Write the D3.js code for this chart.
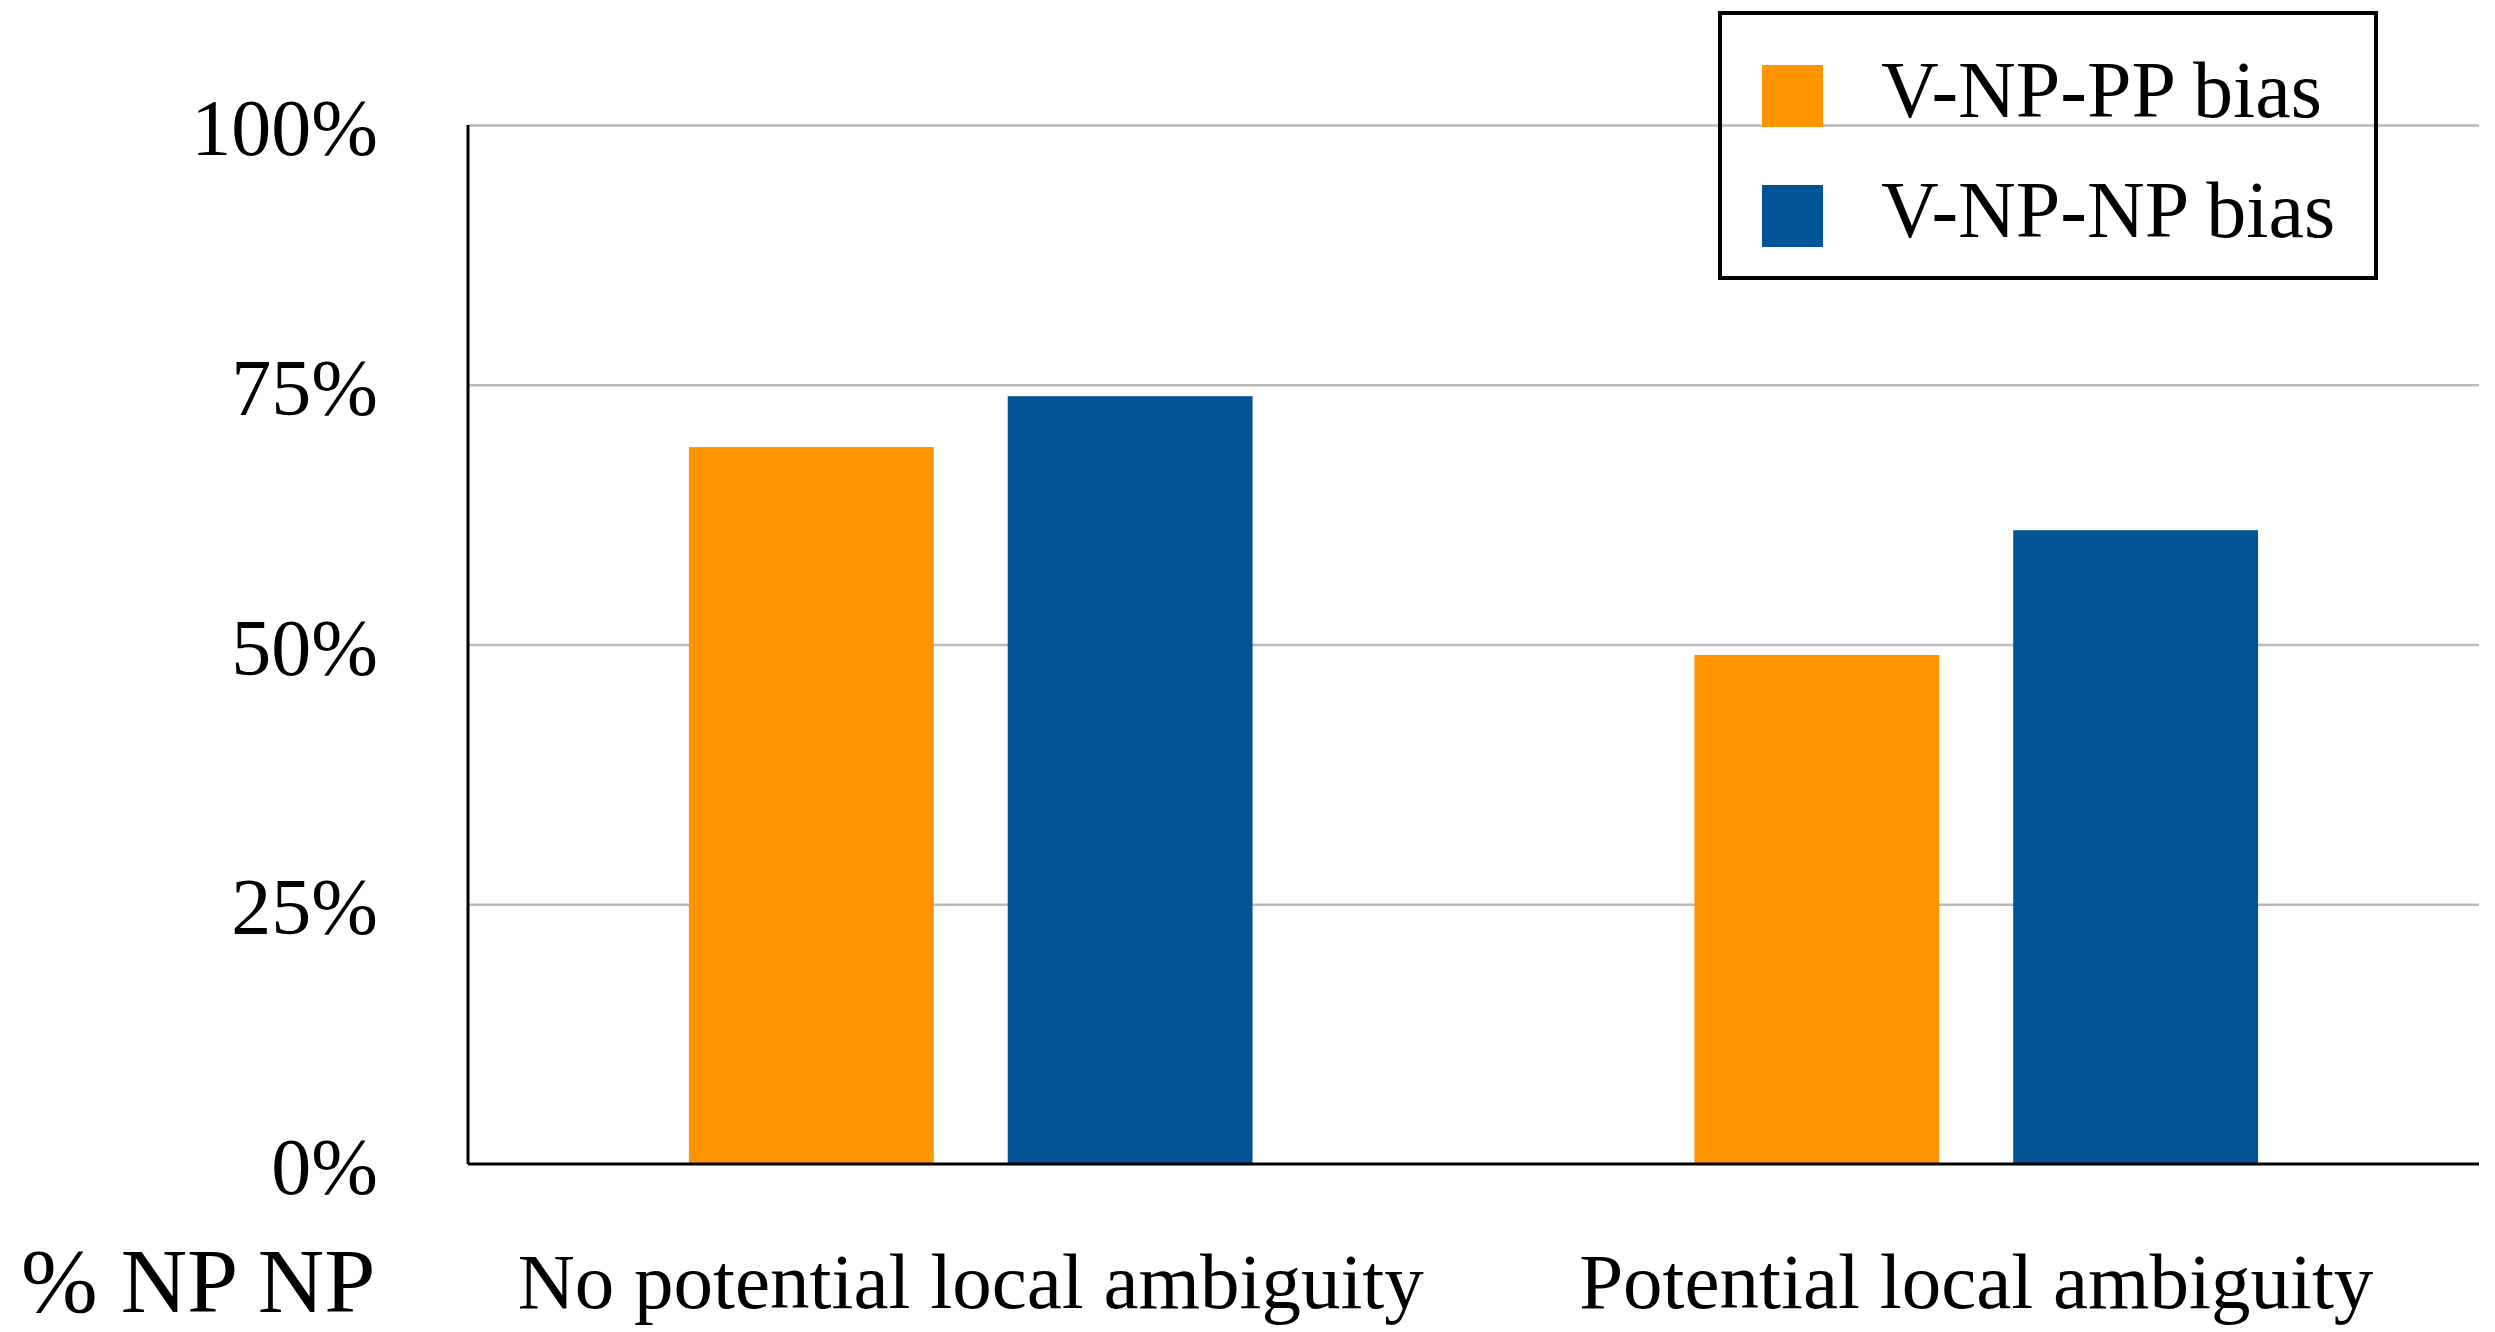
<!DOCTYPE html>
<html>
<head>
<meta charset="utf-8">
<script src="https://d3js.org/d3.v7.min.js"></script>
<style>
  body { margin: 0; background: #fff; }
  svg { display: block; font-family: "Liberation Serif", "Times New Roman", serif; }
</style>
</head>
<body>
<svg width="2495" height="1332"></svg>
<script>
const categories = ["No potential local ambiguity", "Potential local ambiguity"];
const seriesNames = ["V-NP-PP bias", "V-NP-NP bias"];
const ppBias = [0.69, 0.49];
const npBias = [0.739, 0.61];
const yTicks = [0, 0.25, 0.5, 0.75, 1];
const colors = ["#FF9300", "#025395"];

let svg = d3.select("svg"),
    margin = { left: 468, top: 125, right: 16, bottom: 168 },
    width = 2495 - margin.left - margin.right,
    height = 1332 - margin.top - margin.bottom;

let g = svg.append("g").attr("transform", `translate(${margin.left},${margin.top})`);

let y = d3.scaleLinear().domain([0, 1]).range([height, 0]);
let x0 = d3.scaleBand().domain(categories).range([0, width]);
let x1 = d3.scaleBand().domain(seriesNames).range([0, x0.bandwidth()])
    .paddingInner(0.232).paddingOuter(0.693);

// gridlines
g.append("g")
    .call(d3.axisLeft(y).tickValues(yTicks.slice(1)).tickSize(-width).tickFormat(""))
    .call(s => s.select(".domain").remove())
    .call(s => s.selectAll("line").attr("stroke", "#bababa").attr("stroke-width", 2.5));

// bars
let rows = categories.map((c, i) => ({ cat: c, vals: [ppBias[i], npBias[i]] }));
g.selectAll(".grp")
    .data(rows)
    .enter().append("g")
    .attr("transform", d => `translate(${x0(d.cat)},0)`)
    .selectAll("rect")
    .data(d => d.vals.map((v, i) => ({ key: seriesNames[i], v: v, i: i })))
    .enter().append("rect")
    .attr("x", d => x1(d.key))
    .attr("width", x1.bandwidth())
    .attr("y", d => y(d.v))
    .attr("height", d => height - y(d.v))
    .attr("fill", d => colors[d.i]);

// y axis labels
g.append("g")
    .call(d3.axisLeft(y).tickValues(yTicks).tickSize(0).tickPadding(90).tickFormat(d3.format(".0%")))
    .call(s => s.select(".domain").remove())
    .call(s => s.selectAll("text")
        .attr("font-size", 80)
        .attr("fill", "#000")
        .attr("font-family", "Liberation Serif")
        .attr("dy", "0.37em"));

// axis lines
g.append("line").attr("x1", 0).attr("x2", 0).attr("y1", 0).attr("y2", height)
    .attr("stroke", "#000").attr("stroke-width", 3);
g.append("line").attr("x1", 0).attr("x2", width).attr("y1", height).attr("y2", height)
    .attr("stroke", "#000").attr("stroke-width", 3);

// category labels
g.append("g")
    .attr("transform", `translate(0,${height})`)
    .call(d3.axisBottom(x0).tickSize(0).tickPadding(144))
    .call(s => s.select(".domain").remove())
    .call(s => s.selectAll("text")
        .attr("font-size", 79)
        .attr("fill", "#000")
        .attr("font-family", "Liberation Serif")
        .attr("dy", "0"));

svg.append("text")
    .attr("x", 21)
    .attr("y", 1312)
    .attr("font-size", 92)
    .text("% NP NP");

// legend
let legend = svg.append("g");
legend.append("rect")
    .attr("x", 1720).attr("y", 13)
    .attr("width", 656).attr("height", 265)
    .attr("fill", "none").attr("stroke", "#000").attr("stroke-width", 4);

seriesNames.forEach((name, i) => {
    legend.append("rect")
        .attr("x", 1762).attr("y", 65 + i * 120)
        .attr("width", 61).attr("height", 62)
        .attr("fill", colors[i]);
    legend.append("text")
        .attr("x", 1881).attr("y", 117 + i * 120)
        .attr("font-size", 80)
        .text(name);
});
</script>
</body>
</html>
